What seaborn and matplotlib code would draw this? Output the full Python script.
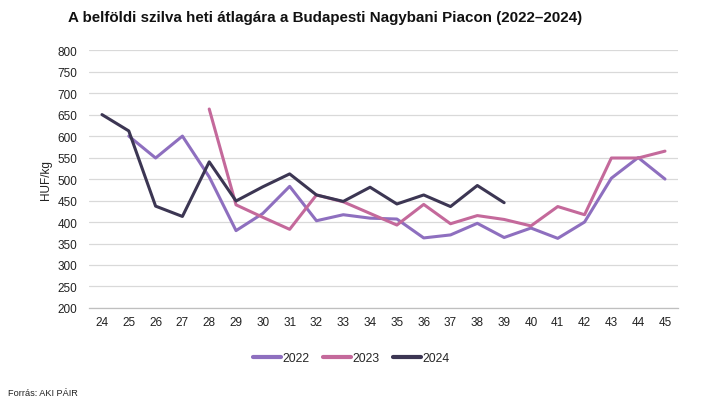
import numpy as np
import pandas as pd
import seaborn as sns
import matplotlib
matplotlib.use("Agg")
import matplotlib.pyplot as plt

weeks = list(range(24, 46))
y2022 = [np.nan, 600, 549, 600, 505, 380, 420, 483, 403, 417, 409, 407, 363, 370, 397, 364, 386, 362, 400, 502, 550, 500]
y2023 = [np.nan, np.nan, np.nan, np.nan, 663, 440, 411, 383, 463, 447, 420, 393, 441, 396, 415, 406, 391, 436, 417, 549, 549, 565]
y2024 = [650, 612, 437, 413, 540, 449, 482, 512, 463, 448, 481, 442, 463, 436, 485, 445, np.nan, np.nan, np.nan, np.nan, np.nan, np.nan]
years = ["2022", "2023", "2024"]
colors = ["#8e6fbf", "#c4699b", "#3c3653"]

df = pd.DataFrame({
    "week": weeks * 3,
    "price": y2022 + y2023 + y2024,
    "year": [years[0]] * 22 + [years[1]] * 22 + [years[2]] * 22,
}).dropna()

sns.set_theme(style="white")
plt.rcParams['font.family'] = ['Liberation Sans', 'DejaVu Sans']

fig = plt.figure(figsize=(7.03, 4.06), dpi=100)
ax = fig.add_axes([0.126, 0.239, 0.839, 0.635])
sns.lineplot(data=df, x="week", y="price", hue="year", palette=colors,
             linewidth=2.2, ax=ax, legend=True)

ax.set_xlim(23.5, 45.5)
ax.set_ylim(200, 800)
ax.set_yticks(range(200, 801, 50))
ax.set_xticks(weeks)
ax.set_xticklabels([str(w) for w in weeks], fontsize=8.5)
ax.set_xticks([w + 0.5 for w in range(23, 46)], minor=True)
ax.tick_params(axis='x', which='major', length=0, pad=6, colors='#222222')
ax.tick_params(axis='x', which='minor', length=4, color='#bfbfbf', width=0.8)
ax.tick_params(axis='y', length=0, labelsize=8.5, colors='#222222', pad=8)
ax.yaxis.grid(True, color='#d9d9d9', linewidth=0.9)
ax.xaxis.grid(False)
for s in ['top', 'right', 'left']:
    ax.spines[s].set_visible(False)
ax.spines['bottom'].set_color('#bfbfbf')
ax.spines['bottom'].set_linewidth(0.9)
ax.set_xlabel("")
ax.set_ylabel("HUF/kg", fontsize=8.5, color='#222222', labelpad=4)

leg = ax.legend(loc='upper center', bbox_to_anchor=(0.445, -0.13), ncol=3,
                frameon=False, fontsize=8.8, handlelength=2.3, handletextpad=0.1,
                columnspacing=1.1)
for line in leg.get_lines():
    line.set_linewidth(3)

fig.text(0.097, 0.955, "A belföldi szilva heti átlagára a Budapesti Nagybani Piacon (2022–2024)",
         fontsize=10.9, fontweight='bold', ha='left', va='center', color='#111111')
fig.text(0.011, 0.032, "Forrás: AKI PÁIR", fontsize=6.6, ha='left', va='center', color='#222222')

fig.savefig("out.png", dpi=100)
